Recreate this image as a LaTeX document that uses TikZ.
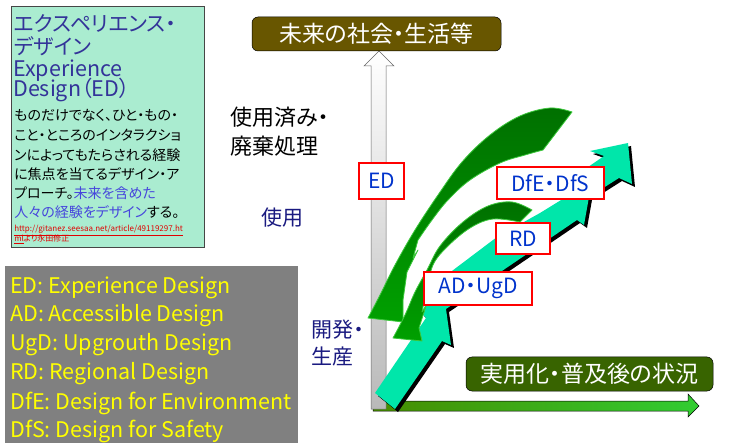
\documentclass[tikz,border=0pt]{standalone}
\usepackage{fontspec}
\setmainfont{Noto Sans CJK JP}[RawFeature=+palt]
\usetikzlibrary{
	calc,
	positioning
}
\definecolor{panelteal}{RGB}{170,236,208}
\definecolor{panelgray}{RGB}{70,70,70}
\definecolor{titleblue}{RGB}{51,51,153}
\definecolor{bodyblue}{RGB}{70,70,220}
\definecolor{urlred}{RGB}{225,0,0}
\definecolor{abbrgray}{RGB}{128,128,128}
\definecolor{abbryellow}{RGB}{255,255,0}
\definecolor{futureolive}{RGB}{104,86,0}
\definecolor{usegreen}{RGB}{56,100,0}
\definecolor{labelblue}{RGB}{0,51,204}
\definecolor{boxred}{RGB}{255,0,0}
\definecolor{stagenavy}{RGB}{26,26,128}
\definecolor{stepteal}{RGB}{0,230,170}
\definecolor{curvegreen}{RGB}{0,112,0}
\definecolor{curvelight}{RGB}{0,160,0}
\definecolor{curveedge}{RGB}{60,200,60}
\definecolor{axisdark}{RGB}{70,140,0}
\definecolor{axislight}{RGB}{50,205,50}
\tikzset{every path/.append style={line width=0.5pt}}
\tikzset{
	txt/.style={anchor=base west,inner sep=0},
	redbox/.style={draw=boxred,line width=1.5pt,fill=white,text=labelblue,inner sep=0,
		font=\fontsize{21}{21}\selectfont},
	capbox/.style={draw=black,rounded corners=6pt,text=white,inner sep=0,
		font=\fontsize{23}{23}\selectfont},
	curvearrow/.style={top color=curvegreen,bottom color=curvelight,draw=curveedge,
		line width=0.8pt,line join=round}
}
\newcommand{\tikzText}[4][]{\node (#3) at #2 [txt,#1]{#4};}

\begin{document}
\begin{tikzpicture}[x=1pt,y=-1pt]
	\useasboundingbox (0,0) rectangle (736,443);

	% left panel
	\node (edpanel) at (107.5,127.5) [draw=panelgray,fill=panelteal,line width=1pt,
		minimum width=193pt,minimum height=241pt,inner sep=0]{};
	\tikzText[font=\fontsize{21}{21}\selectfont,text=titleblue]{(14,32)}{ttl1}{エクスペリエンス・};
	\tikzText[font=\fontsize{21}{21}\selectfont,text=titleblue]{(14,55)}{ttl2}{デザイン};
	\tikzText[font=\fontsize{21.5}{21.5}\selectfont,text=titleblue]{(13,77)}{ttl3}{Experience};
	\tikzText[font=\fontsize{21.5}{21.5}\selectfont,text=titleblue]{(13,97)}{ttl4}{Design（ED）};
	\tikzText[font=\fontsize{14}{14}\selectfont]{(14,121)}{body1}{ものだけでなく、ひと・もの・};
	\tikzText[font=\fontsize{14}{14}\selectfont]{(14,141)}{body2}{こと・ところのインタラクショ};
	\tikzText[font=\fontsize{14}{14}\selectfont]{(14,161)}{body3}{ンによってもたらされる経験};
	\tikzText[font=\fontsize{14}{14}\selectfont]{(14,180)}{body4}{に焦点を当てるデザイン・ア};
	\tikzText[font=\fontsize{14}{14}\selectfont]{(14,199)}{body5}{プローチ。\textcolor{bodyblue}{未来を含めた}};
	\tikzText[font=\fontsize{14}{14}\selectfont]{(14,218)}{body6}{\textcolor{bodyblue}{人々の経験をデザイン}する。};
	\tikzText[font=\fontsize{8}{8}\selectfont,text=urlred]{(14,232)}{url1}{\underline{http://gitanez.seesaa.net/article/49119297.ht}};
	\tikzText[font=\fontsize{8}{8}\selectfont,text=urlred]{(14,242)}{url2}{\underline{ml}より永田修正};

	% abbreviations
	\node (abbrev) at (151.5,354.5) [fill=abbrgray,minimum width=293pt,minimum height=177pt,inner sep=0]{};
	\tikzText[font=\fontsize{21.5}{21.5}\selectfont,text=abbryellow]{(10,294)}{ab1}{ED: Experience Design};
	\tikzText[font=\fontsize{21.5}{21.5}\selectfont,text=abbryellow]{(10,322)}{ab2}{AD: Accessible Design};
	\tikzText[font=\fontsize{21.5}{21.5}\selectfont,text=abbryellow]{(10,351)}{ab3}{UgD: Upgrouth Design};
	\tikzText[font=\fontsize{21.5}{21.5}\selectfont,text=abbryellow]{(10,380)}{ab4}{RD: Regional Design};
	\tikzText[font=\fontsize{21.5}{21.5}\selectfont,text=abbryellow]{(10,409)}{ab5}{DfE: Design for Environment};
	\tikzText[font=\fontsize{21.5}{21.5}\selectfont,text=abbryellow]{(10,437)}{ab6}{DfS: Design for Safety};

	% axes
	\draw[draw=black,left color=axisdark,right color=axislight]
		(373,401) -- (688,401) -- (688,394) -- (699,406) -- (688,417) -- (688,411) -- (373,411) -- cycle;
	\draw[draw=gray!80!black,top color=white,bottom color=gray!55]
		(371,409) -- (371,66) -- (364,66) -- (379,51) -- (394,66) -- (386,66) -- (386,409) -- cycle;

	\node (future) at (376.5,34) [capbox,fill=futureolive,minimum width=249pt,minimum height=34pt]{未来の社会・生活等};
	\node (usage) at (589.5,374) [capbox,fill=usegreen,minimum width=247pt,minimum height=34pt]{実用化・普及後の状況};

	% stepped arrow with shadow
	\fill[black,shift={(3,3)}]
		(375,393) -- (395,409) -- (442,341) -- (451,345) -- (446,309) -- (577,220) -- (584,225)
		-- (589,197) -- (619,178) -- (632,184) -- (628,143) -- (590,151) -- (604,156) -- (578,174)
		-- (562,189) -- (566,197) -- (540,213) -- (497,237) -- (440,280) -- (421,313) -- (426,318) -- cycle;
	\fill[stepteal]
		(375,393) -- (395,409) -- (442,341) -- (451,345) -- (446,309) -- (577,220) -- (584,225)
		-- (589,197) -- (619,178) -- (632,184) -- (628,143) -- (590,151) -- (604,156) -- (578,174)
		-- (562,189) -- (566,197) -- (540,213) -- (497,237) -- (440,280) -- (421,313) -- (426,318) -- cycle;

	% curved arrows
	\draw[curvearrow]
		plot[smooth,tension=0.6] coordinates {(572,112) (550,108) (520,116) (490,135) (462,162)
			(438,195) (415,230) (395,265) (380,295) (368,318)}
		-- (403,322) -- (403,300) -- (407,272) -- (418,250) -- (413,258)
		-- plot[smooth,tension=0.6] coordinates {(418,240) (432,220) (448,200) (470,180)
			(500,163) (525,155) (543,150)} -- cycle;
	\draw[curvearrow]
		plot[smooth,tension=0.6] coordinates {(532,210) (512,202) (488,206) (463,222) (440,246)
			(427,270) (415,292) (405,315) (393,338)}
		-- (422,341) -- (419,328) -- (426,306) -- (422,312)
		-- plot[smooth,tension=0.6] coordinates {(426,292) (433,265) (447,247) (470,228)
			(493,219) (520,222)} -- cycle;

	% design boxes
	\node (ed) at (381.5,181) [redbox,minimum width=45pt,minimum height=36pt]{ED};
	\node (dfe) at (550.5,183) [redbox,minimum width=107pt,minimum height=32pt]{DfE・DfS};
	\node (rd) at (523,238.5) [redbox,minimum width=54pt,minimum height=31pt]{RD};
	\node (adugd) at (478,288.5) [redbox,minimum width=108pt,minimum height=33pt]{AD・UgD};

	% stages
	\tikzText[font=\fontsize{22}{22}\selectfont]{(230,126)}{disp1}{使用済み・};
	\tikzText[font=\fontsize{22}{22}\selectfont]{(230,155)}{disp2}{廃棄処理};
	\tikzText[font=\fontsize{21}{21}\selectfont,text=stagenavy]{(261,226)}{use}{使用};
	\tikzText[font=\fontsize{21}{21}\selectfont,text=stagenavy]{(311,338)}{dev1}{開発・};
	\tikzText[font=\fontsize{21}{21}\selectfont,text=stagenavy]{(311,364)}{dev2}{生産};
\end{tikzpicture}
\end{document}
